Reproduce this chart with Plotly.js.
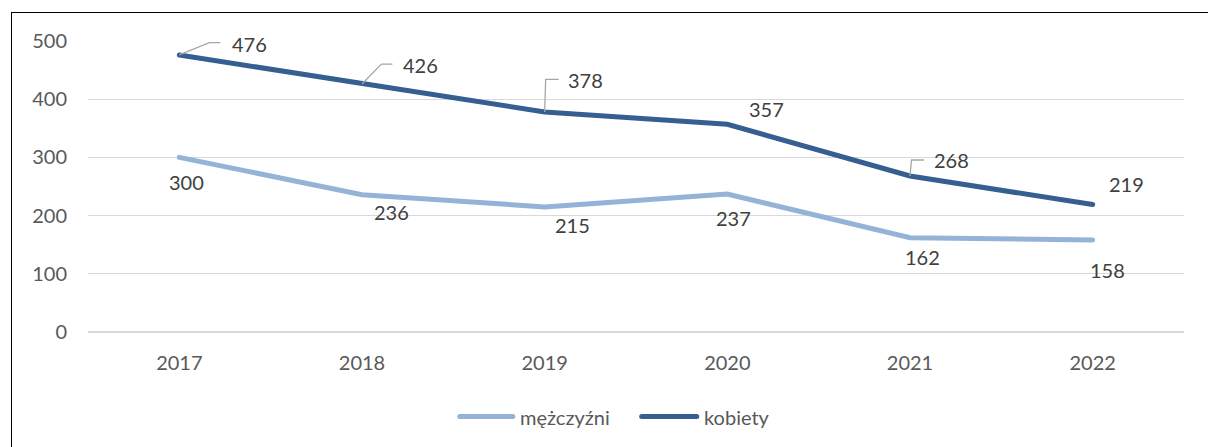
<!DOCTYPE html>
<html>
<head>
<meta charset="utf-8">
<script src="https://cdn.plot.ly/plotly-3.0.1.min.js"></script>
<style>
  html, body { margin: 0; padding: 0; background: #fff; }
  #wrap { position: relative; width: 1208px; height: 447px; overflow: hidden; }
  #chart { position: absolute; left: 0; top: 0; width: 1208px; height: 447px; }
  #frame { position: absolute; left: 11px; top: 12px; width: 1300px; height: 600px;
           border-left: 1.5px solid #000; border-top: 1.5px solid #000; pointer-events: none; }
  .js-line { stroke-linecap: round !important; }
  .shapelayer path { stroke-linecap: butt; }
  .shapelayer path.legline { stroke-linecap: round !important; }
</style>
</head>
<body>
<div id="wrap"><div id="chart"></div><div id="frame"></div></div>
<script>
// ---- data ----
const years = ["2017", "2018", "2019", "2020", "2021", "2022"];
const menName = "mężczyźni";
const womenName = "kobiety";
const menValues = [300, 236, 215, 237, 162, 158];
const womenValues = [476, 426, 378, 357, 268, 219];
const yTicks = [0, 100, 200, 300, 400, 500];

// ---- styling / label placement (pixels, y up) ----
const colMen = "#95B3D7";
const colWomen = "#365F91";
const fontFam = "Lato, 'Open Sans', sans-serif";
const labelFont = { family: fontFam, size: 20, color: "#404040" };
const womenLabelShift = [[51, 11], [39, 19], [21.5, 32], [19.5, 15], [22, 16], [14, 21]];
const womenLeaders = [
  "M0,0L30,12.3L41,12.3",
  "M0,0L19.4,20L30.4,20",
  "M0,0L1,32.7L14,32.7",
  null,
  "M0,0L1.5,16L14,16",
  null
];
const menLabelShift = [[7, -25], [29, -17], [28, -18], [6, -24], [12, -19], [15, -30]];
// legend layout (paper coordinates)
const legendY = -0.2906;
const legendItems = [
  { name: menName, color: colMen, x0: 0.3392, x1: 0.3876, tx: 0.3922 },
  { name: womenName, color: colWomen, x0: 0.5052, x1: 0.5554, tx: 0.5600 }
];

const idx = years.map((_, i) => i);

const traces = [
  { x: idx, y: menValues, name: menName, type: "scatter", mode: "lines",
    line: { color: colMen, width: 5 }, hoverinfo: "skip", showlegend: false },
  { x: idx, y: womenValues, name: womenName, type: "scatter", mode: "lines",
    line: { color: colWomen, width: 5 }, hoverinfo: "skip", showlegend: false }
];

const annotations = [];
const shapes = [];
womenValues.forEach((v, i) => {
  annotations.push({ x: i, y: v, xref: "x", yref: "y", text: String(v), showarrow: false,
    xanchor: "left", yanchor: "middle", xshift: womenLabelShift[i][0], yshift: womenLabelShift[i][1],
    font: labelFont });
  if (womenLeaders[i]) {
    shapes.push({ type: "path", xref: "x", yref: "y", xsizemode: "pixel", ysizemode: "pixel",
      xanchor: i, yanchor: v, path: womenLeaders[i],
      line: { color: "#A6A6A6", width: 1.3 }, layer: "above" });
  }
});
menValues.forEach((v, i) => {
  annotations.push({ x: i, y: v, xref: "x", yref: "y", text: String(v), showarrow: false,
    xanchor: "center", yanchor: "middle", xshift: menLabelShift[i][0], yshift: menLabelShift[i][1],
    font: labelFont });
});
legendItems.forEach(it => {
  shapes.push({ type: "line", xref: "paper", yref: "paper", x0: it.x0, x1: it.x1, y0: legendY, y1: legendY,
    line: { color: it.color, width: 5 }, name: "leg" });
  annotations.push({ x: it.tx, y: legendY, xref: "paper", yref: "paper", text: it.name, showarrow: false,
    xanchor: "left", yanchor: "middle", font: { family: fontFam, size: 20, color: "#595959" } });
});

const layout = {
  width: 1208, height: 447,
  margin: { l: 88.3, r: 23.7, t: 40.8, b: 114.7 },
  paper_bgcolor: "#fff", plot_bgcolor: "#fff",
  font: { family: fontFam, size: 20, color: "#595959" },
  showlegend: false,
  xaxis: { type: "linear", range: [-0.5, 5.5], tickvals: idx, ticktext: years,
    showgrid: false, zeroline: false, showline: false, ticks: "",
    ticklabelstandoff: 17, fixedrange: true },
  yaxis: { range: [0, 500], tickvals: yTicks, showgrid: true, gridcolor: "#D9D9D9", gridwidth: 1.4,
    zeroline: true, zerolinecolor: "#D9D9D9", zerolinewidth: 1.4, showline: false, ticks: "",
    ticklabelstandoff: 20, fixedrange: true },
  annotations: annotations,
  shapes: shapes
};

Plotly.newPlot("chart", traces, layout, { displayModeBar: false, staticPlot: true }).then(gd => {
  // round caps for the legend sample lines (last two shapes)
  const paths = document.querySelectorAll(".shapelayer path");
  const n = paths.length;
  for (let k = n - legendItems.length; k < n; k++) {
    if (paths[k]) paths[k].style.strokeLinecap = "round";
  }
});
</script>
</body>
</html>
